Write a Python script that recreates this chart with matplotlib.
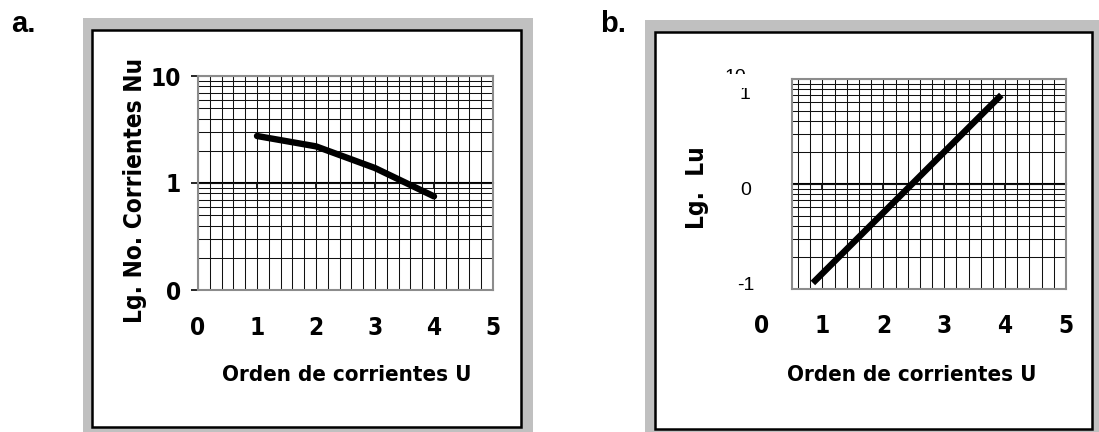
import numpy as np
import matplotlib
matplotlib.use('Agg')
import matplotlib.pyplot as plt
from matplotlib.patches import Rectangle
from matplotlib.ticker import NullFormatter, LogLocator, MultipleLocator
from matplotlib import font_manager as fm

# ---------------- data ----------------
orden_a = [1, 2, 3, 4]
nu_a = [2.75, 2.2, 1.38, 0.75]
orden_b = [0.88, 3.9]
lu_b = [0.12, 6.7]
x_tick_vals = [0, 1, 2, 3, 4, 5]
x_tick_labels = ['0', '1', '2', '3', '4', '5']
ya_ticks = [0.1, 1, 10]
ya_labels = ['0', '1', '10']
yb_label_pos = [0.924, 0.471, 0.019]   # typed labels on panel b (axes fraction)
yb_labels = ['1', '0', '-1']

W, H = 1099, 432
fig = plt.figure(figsize=(W / 100, H / 100), dpi=100)

# look for a condensed bold face
cond = None
for f in fm.fontManager.ttflist:
    if f.weight in ('bold', 700) and 'condensed' in str(f.stretch).lower() or \
       ('Narrow' in f.name and f.weight in ('bold', 700)):
        cond = f.fname
        break
if cond is not None:
    def NB(size):
        return fm.FontProperties(fname=cond, size=size)
else:
    def NB(size):
        return fm.FontProperties(family=['Liberation Sans', 'DejaVu Sans'], weight='bold', size=size)

REG = dict(family=['Liberation Sans', 'DejaVu Sans'])


def fbox(l, t, r, b):
    return [l / W, 1 - b / H, (r - l) / W, (b - t) / H]


def frame(l, t, r, b, il, it, ir, ib):
    g = fbox(l, t, r, b)
    fig.add_artist(Rectangle((g[0], g[1]), g[2], g[3], transform=fig.transFigure,
                             facecolor='#c0c0c0', edgecolor='none', zorder=-3))
    w = fbox(il, it, ir, ib)
    fig.add_artist(Rectangle((w[0], w[1]), w[2], w[3], transform=fig.transFigure,
                             facecolor='white', edgecolor='black', lw=1.8, zorder=-2))


frame(83, 18, 533, 434, 92, 30, 521, 427)
frame(645, 20, 1099, 434, 655, 32, 1092, 429)

fig.text(11 / W, 1 - 32 / H, 'a.', fontsize=21, ha='left', va='baseline',
         family=['Liberation Sans', 'DejaVu Sans'], weight='bold')
fig.text(600 / W, 1 - 32 / H, 'b.', fontsize=21, ha='left', va='baseline',
         family=['Liberation Sans', 'DejaVu Sans'], weight='bold')


def setup(ax, xmin, xmax):
    ax.set_yscale('log')
    ax.set_ylim(0.1, 10)
    ax.set_xlim(xmin, xmax)
    ax.set_facecolor('white')
    for s in ax.spines.values():
        s.set_color('#8c8c8c')
        s.set_linewidth(1.5)
    ax.xaxis.set_major_locator(MultipleLocator(0.2))
    ax.xaxis.set_major_formatter(NullFormatter())
    ax.tick_params(axis='x', length=0)
    ax.yaxis.set_minor_locator(LogLocator(base=10, subs=np.arange(2, 10)))
    ax.yaxis.set_minor_formatter(NullFormatter())
    ax.tick_params(axis='y', which='minor', length=0)
    ax.grid(True, which='both', axis='both', color='#111111', lw=0.75)
    ax.set_axisbelow(True)
    sec = ax.secondary_xaxis(0.5)
    sec.set_xticks([1, 2, 3, 4, 5])
    sec.set_xticklabels([])
    sec.xaxis.set_ticks_position('bottom')
    sec.tick_params(axis='x', direction='out', length=4, width=1.2, color='black',
                    bottom=True, top=False, labelbottom=False, labeltop=False)
    for s in sec.spines.values():
        s.set_color('black')
        s.set_linewidth(1.5)
    for v, lab in zip(x_tick_vals, x_tick_labels):
        ax.text(v, -0.176, lab, transform=ax.get_xaxis_transform(), ha='center', va='center',
                fontproperties=NB(17.5), clip_on=False)


# ---------------- panel a ----------------
axa = fig.add_axes(fbox(198, 76, 493, 290))
setup(axa, 0, 5)
axa.set_yticks(ya_ticks)
axa.set_yticklabels(ya_labels)
axa.tick_params(axis='y', which='major', length=5, width=1.2, color='black', pad=7.5)
for t in axa.get_yticklabels():
    t.set_fontproperties(NB(17.5))
axa.plot(orden_a, nu_a, color='black', lw=4.6, solid_capstyle='round', solid_joinstyle='round', zorder=5)
fig.text(135 / W, 1 - 190 / H, 'Lg. No. Corrientes Nu', rotation=90, ha='center', va='center',
         fontproperties=NB(17.5))
fig.text(347 / W, 1 - 375 / H, 'Orden de corrientes U', ha='center', va='center',
         fontproperties=NB(16))

# ---------------- panel b ----------------
axb = fig.add_axes(fbox(792, 79, 1066, 289))
setup(axb, 0.5, 5.0)
axb.set_yticks(ya_ticks)
axb.set_yticklabels([])
axb.tick_params(axis='y', which='major', length=0)
axb.plot(orden_b, lu_b, color='black', lw=4.6, solid_capstyle='projecting', zorder=5)
for p, lab in zip(yb_label_pos, yb_labels):
    axb.text(-0.17, p, lab, transform=axb.transAxes, ha='center', va='center',
             fontsize=14, clip_on=False, zorder=6, **REG)
# stray, mostly hidden "10" label of the original chart
fig.text(735 / W, 1 - 69 / H, '10', ha='center', va='top', fontsize=14, zorder=3, **REG)
c = fbox(715, 73.5, 760, 88)
fig.add_artist(Rectangle((c[0], c[1]), c[2], c[3], transform=fig.transFigure,
                         facecolor='white', edgecolor='none', zorder=4))
fig.text(697 / W, 1 - 188 / H, 'Lg.  Lu', rotation=90, ha='center', va='center',
         fontproperties=NB(17.5))
fig.text(912 / W, 1 - 375 / H, 'Orden de corrientes U', ha='center', va='center',
         fontproperties=NB(16))

fig.savefig('out.png', dpi=100)
